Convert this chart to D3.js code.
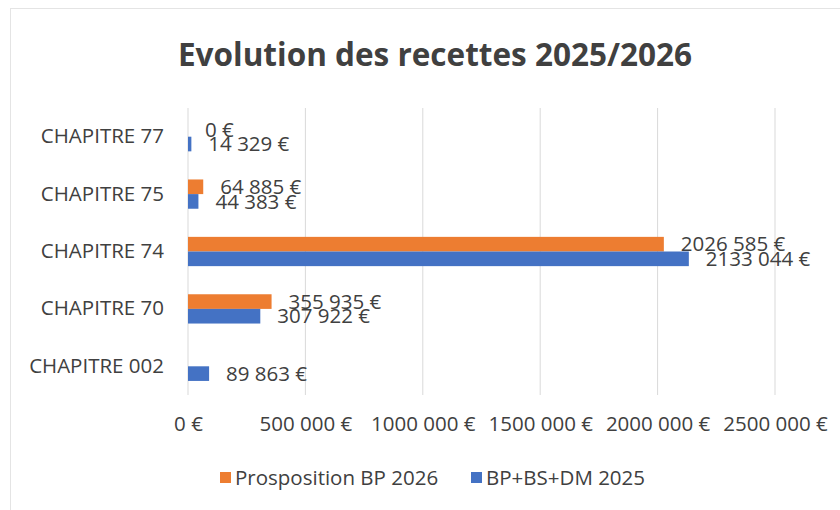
<!DOCTYPE html>
<html>
<head>
<meta charset="utf-8">
<script src="https://cdn.jsdelivr.net/npm/d3@7"></script>
<style>
  body { margin: 0; background: #fff; }
  svg text { font-family: "Open Sans", sans-serif; fill: #404040; }
</style>
</head>
<body>
<svg width="840" height="510"></svg>
<script>
// categories, top to bottom
var categories = ["CHAPITRE 77", "CHAPITRE 75", "CHAPITRE 74", "CHAPITRE 70", "CHAPITRE 002"];
var seriesNames = ["Prosposition BP 2026", "BP+BS+DM 2025"];
var bp2026 = [0, 64885, 2026585, 355935, null];
var bp2025 = [14329, 44383, 2133044, 307922, 89863];
var xTicks = [0, 500000, 1000000, 1500000, 2000000, 2500000];
var colors = ["#ED7D31", "#4472C4"];

var fontSize = "20.5px";
var svg = d3.select("svg");

// faint chart border
svg.append("rect")
  .attr("x", 10.5).attr("y", 8.5)
  .attr("width", 840).attr("height", 520)
  .attr("fill", "none").attr("stroke", "#e4e4e4");

var margin = {top: 108, left: 188, right: 65, bottom: 115};
var width = 840 - margin.left - margin.right,
    height = 510 - margin.top - margin.bottom;

var g = svg.append("g").attr("transform", "translate(" + margin.left + "," + margin.top + ")");

var x = d3.scaleLinear().domain([0, 2500000]).range([0, 587]);
var y = d3.scaleBand().domain(categories).range([0, height]).paddingInner(0.49).paddingOuter(0.245);
var ySub = d3.scaleBand().domain([0, 1]).range([0, y.bandwidth()]);

// Excel style: only the last group of 3 digits is separated ("2026 585 €")
function fmt(v) {
  var s = String(Math.round(v));
  if (s.length <= 3) return s + " €";
  return s.slice(0, s.length - 3) + " " + s.slice(-3) + " €";
}

// gridlines
g.selectAll(".grid").data(xTicks).enter().append("line")
  .attr("x1", function(d) { return x(d); })
  .attr("x2", function(d) { return x(d); })
  .attr("y1", 0).attr("y2", height)
  .attr("stroke", "#d9d9d9").attr("stroke-width", 1);

// x axis labels
var xAxis = d3.axisBottom(x).tickValues(xTicks).tickFormat(fmt).tickSize(0).tickPadding(21);
var xg = g.append("g").attr("transform", "translate(0," + height + ")").call(xAxis);
xg.select(".domain").remove();
xg.selectAll("text").style("font-size", fontSize).attr("fill", "#404040")
  .style("font-family", "'Open Sans', sans-serif");

// y axis labels
var yAxis = d3.axisLeft(y).tickSize(0).tickPadding(24);
var yg = g.append("g").call(yAxis);
yg.select(".domain").remove();
yg.selectAll("text").style("font-size", fontSize).attr("fill", "#404040")
  .style("font-family", "'Open Sans', sans-serif");

var series = [bp2026, bp2025];
series.forEach(function(vals, si) {
  var rows = categories.map(function(c, i) { return {cat: c, v: vals[i]}; })
    .filter(function(d) { return d.v !== null; });

  g.selectAll(".bar" + si).data(rows).enter().append("rect")
    .attr("x", 0)
    .attr("y", function(d) { return y(d.cat) + ySub(si); })
    .attr("width", function(d) { return x(d.v); })
    .attr("height", ySub.bandwidth())
    .attr("fill", colors[si]);

  g.selectAll(".lbl" + si).data(rows).enter().append("text")
    .attr("x", function(d) { return x(d.v) + 17; })
    .attr("y", function(d) { return y(d.cat) + ySub(si) + ySub.bandwidth() / 2; })
    .attr("dy", "0.35em")
    .style("font-size", fontSize)
    .text(function(d) { return fmt(d.v); });
});

// title
svg.append("text")
  .attr("x", 435).attr("y", 66)
  .attr("text-anchor", "middle")
  .style("font-size", "31.5px").style("font-weight", "bold")
  .text("Evolution des recettes 2025/2026");

// legend
var legendX = [220, 471];
seriesNames.forEach(function(name, i) {
  var lg = svg.append("g").attr("transform", "translate(" + legendX[i] + ",478)");
  lg.append("rect").attr("x", 0).attr("y", -6).attr("width", 11).attr("height", 11).attr("fill", colors[i]);
  lg.append("text").attr("x", 15).attr("y", 0).attr("dy", "0.35em")
    .style("font-size", fontSize).text(name);
});
</script>
</body>
</html>
